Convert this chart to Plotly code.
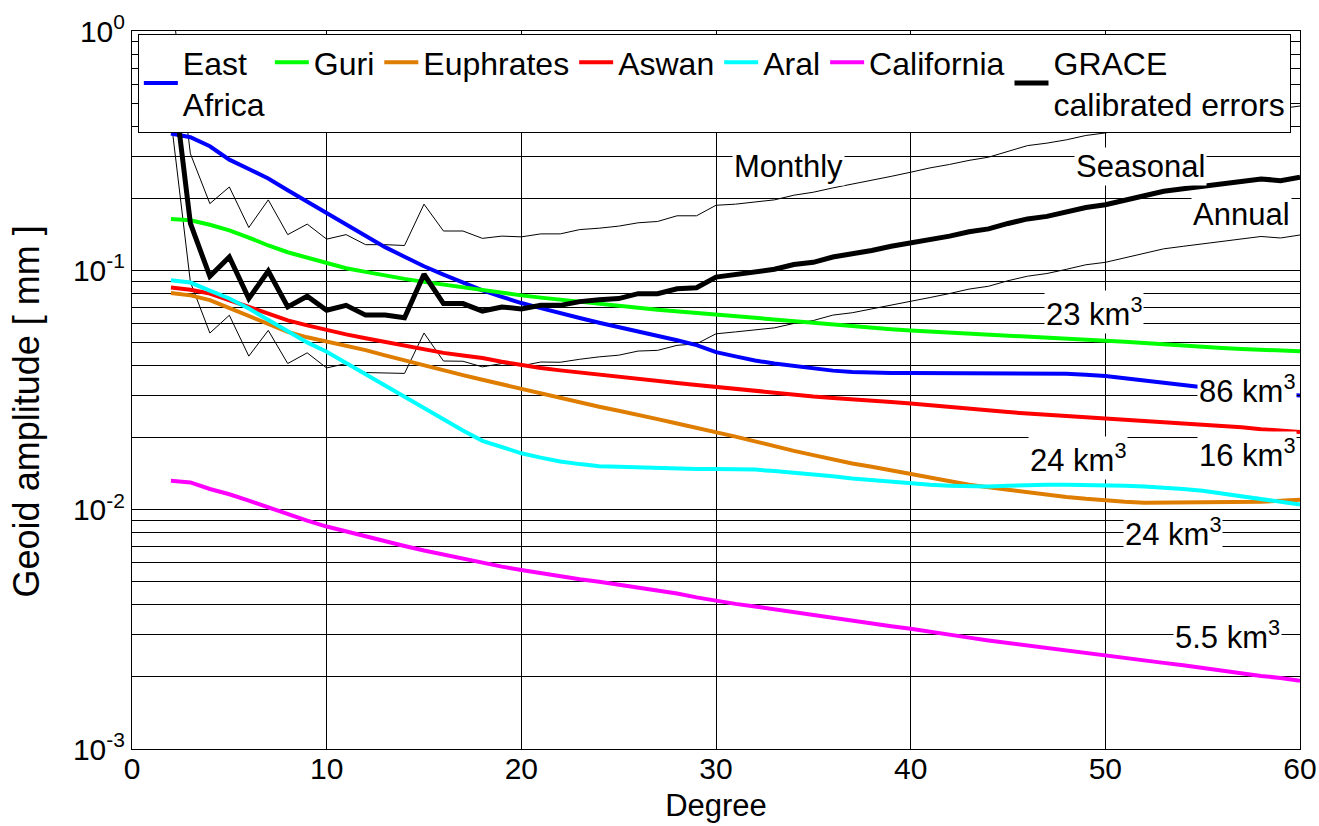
import numpy as np
import plotly.graph_objects as go

# ---------------- data ----------------
degree = list(range(2, 61))

east_africa = [0.373, 0.360, 0.330, 0.290, 0.265, 0.242, 0.216, 0.194, 0.173, 0.156,
               0.140, 0.125, 0.114, 0.104, 0.096, 0.0885, 0.0824, 0.0775, 0.0730, 0.0695,
               0.0660, 0.0632, 0.0604, 0.0580, 0.0556, 0.0532, 0.0510, 0.0487, 0.0455, 0.0437,
               0.0420, 0.0408, 0.0398, 0.0390, 0.0381, 0.0376, 0.0373, 0.0372, 0.0372, 0.0372,
               0.0372, 0.0372, 0.0372, 0.0373, 0.0373, 0.0373, 0.0370, 0.0366, 0.0362, 0.0354,
               0.0346, 0.0338, 0.0330, 0.0323, 0.0318, 0.0313, 0.0308, 0.0304, 0.0300]

guri = [0.164, 0.162, 0.155, 0.147, 0.137, 0.127, 0.119, 0.113, 0.107, 0.102,
        0.0985, 0.0950, 0.0921, 0.0895, 0.0871, 0.0846, 0.0824, 0.0805, 0.0786, 0.0769,
        0.0753, 0.0739, 0.0725, 0.0711, 0.0697, 0.0685, 0.0674, 0.0662, 0.0650, 0.0640,
        0.0630, 0.0620, 0.0610, 0.0600, 0.0590, 0.0582, 0.0575, 0.0567, 0.0560, 0.0555,
        0.0550, 0.0545, 0.0540, 0.0535, 0.0530, 0.0525, 0.0520, 0.0515, 0.0510, 0.0503,
        0.0497, 0.0490, 0.0484, 0.0479, 0.0474, 0.0469, 0.0465, 0.0461, 0.0459]

euphrates = [0.0804, 0.0786, 0.0751, 0.0697, 0.0648, 0.0598, 0.0553, 0.0525, 0.0505, 0.0484,
             0.0464, 0.0441, 0.0420, 0.0400, 0.0382, 0.0365, 0.0349, 0.0334, 0.0320, 0.0305,
             0.0291, 0.0280, 0.0269, 0.0259, 0.0250, 0.0239, 0.0229, 0.0220, 0.0211, 0.0202,
             0.0193, 0.0184, 0.0176, 0.0169, 0.0162, 0.0156, 0.0151, 0.0146, 0.0141, 0.0136,
             0.0131, 0.0127, 0.0124, 0.0121, 0.0118, 0.0115, 0.0113, 0.0111, 0.0109, 0.0108,
             0.0107, 0.0107, 0.0107, 0.0107, 0.0107, 0.0107, 0.0108, 0.0109, 0.0110]

aswan = [0.0847, 0.0830, 0.0800, 0.0750, 0.0707, 0.0659, 0.0618, 0.0589, 0.0562, 0.0540,
         0.0520, 0.0502, 0.0486, 0.0468, 0.0452, 0.0441, 0.0430, 0.0415, 0.0401, 0.0391,
         0.0382, 0.0374, 0.0366, 0.0358, 0.0350, 0.0344, 0.0338, 0.0332, 0.0326, 0.0318,
         0.0312, 0.0306, 0.0301, 0.0297, 0.0293, 0.0290, 0.0286, 0.0282, 0.0278, 0.0273,
         0.0268, 0.0264, 0.0260, 0.0256, 0.0252, 0.0249, 0.0246, 0.0244, 0.0242, 0.0239,
         0.0235, 0.0232, 0.0229, 0.0226, 0.0224, 0.0221, 0.0217, 0.0213, 0.0211]

aral = [0.0909, 0.0889, 0.0823, 0.0763, 0.0692, 0.0621, 0.0563, 0.0500, 0.0457, 0.0412,
        0.0368, 0.0330, 0.0296, 0.0265, 0.0236, 0.0214, 0.0194, 0.0182, 0.0172, 0.0165,
        0.0159, 0.0155, 0.0152, 0.0151, 0.0150, 0.0149, 0.0149, 0.0148, 0.0148, 0.0148,
        0.0147, 0.0145, 0.0143, 0.0141, 0.0138, 0.0135, 0.0133, 0.0130, 0.0128, 0.0127,
        0.0126, 0.0125, 0.0125, 0.0126, 0.0127, 0.0127, 0.0127, 0.0127, 0.0127, 0.0126,
        0.0125, 0.0124, 0.0122, 0.0120, 0.0117, 0.0114, 0.0111, 0.0108, 0.0105]

california = [0.0132, 0.0130, 0.0122, 0.0116, 0.0109, 0.0102, 0.00960, 0.00900, 0.00850, 0.00810,
              0.00776, 0.00742, 0.00705, 0.00675, 0.00648, 0.00622, 0.00598, 0.00578, 0.00560, 0.00542,
              0.00526, 0.00512, 0.00500, 0.00486, 0.00472, 0.00460, 0.00446, 0.00430, 0.00416, 0.00404,
              0.00394, 0.00383, 0.00372, 0.00362, 0.00352, 0.00343, 0.00334, 0.00326, 0.00318, 0.00310,
              0.00301, 0.00292, 0.00284, 0.00277, 0.00270, 0.00264, 0.00257, 0.00251, 0.00246, 0.00240,
              0.00234, 0.00229, 0.00224, 0.00218, 0.00213, 0.00207, 0.00202, 0.00198, 0.00193]

grace_monthly = [1.45, 0.307, 0.190, 0.223, 0.151, 0.197, 0.141, 0.156, 0.135, 0.141,
                 0.128, 0.128, 0.127, 0.189, 0.146, 0.146, 0.136, 0.139, 0.138, 0.142,
                 0.142, 0.148, 0.150, 0.153, 0.158, 0.160, 0.169, 0.169, 0.187, 0.189,
                 0.193, 0.197, 0.206, 0.212, 0.221, 0.229, 0.239, 0.247, 0.257, 0.268,
                 0.277, 0.288, 0.297, 0.315, 0.332, 0.340, 0.351, 0.366, 0.375, 0.390,
                 0.410, 0.425, 0.434, 0.444, 0.455, 0.462, 0.478, 0.474, 0.486]

grace_seasonal = [0.74, 0.157, 0.0944, 0.1137, 0.0762, 0.0993, 0.0703, 0.0779, 0.0681, 0.0714,
                  0.0650, 0.0650, 0.0634, 0.0963, 0.0726, 0.0726, 0.0676, 0.0703, 0.0690, 0.0714,
                  0.0714, 0.0740, 0.0754, 0.0762, 0.0799, 0.0799, 0.0837, 0.0846, 0.0937, 0.0963,
                  0.0984, 0.1010, 0.1057, 0.1080, 0.1137, 0.1166, 0.1210, 0.1260, 0.1300, 0.1340,
                  0.1390, 0.1450, 0.1490, 0.1570, 0.1640, 0.1680, 0.1750, 0.1830, 0.1880, 0.1970,
                  0.2060, 0.2140, 0.2190, 0.2240, 0.2300, 0.2340, 0.2410, 0.2370, 0.2450]

grace_annual = [0.43, 0.0893, 0.0547, 0.0649, 0.0438, 0.0561, 0.0408, 0.0452, 0.0391, 0.0408,
                0.0374, 0.0372, 0.0371, 0.0547, 0.0418, 0.0417, 0.0395, 0.0408, 0.0399, 0.0414,
                0.0413, 0.0425, 0.0435, 0.0442, 0.0460, 0.0463, 0.0486, 0.0493, 0.0543, 0.0553,
                0.0563, 0.0575, 0.0600, 0.0617, 0.0650, 0.0665, 0.0690, 0.0715, 0.0738, 0.0770,
                0.0800, 0.0835, 0.0858, 0.0905, 0.0945, 0.0970, 0.1010, 0.1055, 0.1080, 0.1130,
                0.1180, 0.1230, 0.1260, 0.1290, 0.1320, 0.1345, 0.1385, 0.1365, 0.1405]

series_names = ["East<br>Africa", "Guri", "Euphrates", "Aswan", "Aral", "California"]
series_values = [east_africa, guri, euphrates, aswan, aral, california]
series_colors = ["#0000ff", "#00ff00", "#de7d00", "#ff0000", "#00ffff", "#ff00ff"]
grace_name = "GRACE<br>calibrated errors"

x_tick_vals = [0, 10, 20, 30, 40, 50, 60]
y_decades = [-3, -2, -1, 0]

# line labels: (text, degree, value)
curve_labels = [
    ("Monthly", 33.7, 0.272),
    ("Seasonal", 51.8, 0.272),
    ("Annual", 57.0, 0.171),
    ("23 km<sup>3</sup>", 49.4, 0.0672),
    ("86 km<sup>3</sup>", 57.3, 0.0318),
    ("24 km<sup>3</sup>", 48.6, 0.0164),
    ("16 km<sup>3</sup>", 57.3, 0.0172),
    ("24 km<sup>3</sup>", 53.5, 0.00808),
    ("5.5 km<sup>3</sup>", 56.3, 0.00300),
]

# ---------------- figure ----------------
FONT = "Liberation Sans, Arial, Helvetica, sans-serif"
fig = go.Figure()

for arr in (grace_monthly, grace_annual):
    fig.add_trace(go.Scatter(x=degree, y=arr, mode="lines",
                             line=dict(color="black", width=1),
                             showlegend=False, hoverinfo="skip"))

for name, vals, col in zip(series_names, series_values, series_colors):
    fig.add_trace(go.Scatter(x=degree, y=vals, mode="lines", name=name,
                             line=dict(color=col, width=4)))

fig.add_trace(go.Scatter(x=degree, y=grace_seasonal, mode="lines", name=grace_name,
                         line=dict(color="black", width=5)))

# y ticks: every 1..9 x decade (grid lines), labels only on decades
y_tick_vals, y_tick_text = [], []
for d in y_decades:
    for m in range(1, 10):
        if d == 0 and m > 1:
            break
        y_tick_vals.append(m * 10.0 ** d)
        y_tick_text.append("10<sup>%d</sup>" % d if m == 1 else "")

annotations = []
for txt, xd, yv in curve_labels:
    annotations.append(dict(x=xd, y=np.log10(yv), xref="x", yref="y", text=txt,
                            showarrow=False, xanchor="center", yanchor="middle",
                            bgcolor="white", borderpad=1,
                            font=dict(family=FONT, size=31, color="black")))
annotations.append(dict(x=-0.09, y=0.47, xref="paper", yref="paper",
                        text="Geoid amplitude [ mm ]", textangle=-90,
                        showarrow=False, xanchor="center", yanchor="middle",
                        font=dict(family=FONT, size=36, color="black")))

fig.update_layout(
    width=1319, height=826, autosize=False,
    margin=dict(l=132, r=19, t=31, b=77, autoexpand=False),
    paper_bgcolor="white", plot_bgcolor="white",
    font=dict(family=FONT, size=30, color="black"),
    showlegend=True,
    legend=dict(orientation="h", x=0.005, y=0.996, xanchor="left", yanchor="top",
                bgcolor="white", bordercolor="black", borderwidth=1,
                font=dict(family=FONT, size=32, color="black"),
                traceorder="normal", itemwidth=34),
    xaxis=dict(range=[0, 60], tickmode="array", tickvals=x_tick_vals,
               showgrid=True, gridcolor="black", gridwidth=1,
               ticks="inside", ticklen=7, tickcolor="black",
               showline=True, linecolor="black", linewidth=1, mirror="ticks",
               zeroline=False, tickfont=dict(size=30), automargin=False,
               ticklabelstandoff=-7,
               title=dict(text="Degree", font=dict(size=31), standoff=10)),
    yaxis=dict(type="log", range=[-3, 0], tickmode="array",
               tickvals=y_tick_vals, ticktext=y_tick_text,
               showgrid=True, gridcolor="black", gridwidth=1,
               ticks="inside", ticklen=7, tickcolor="black",
               showline=True, linecolor="black", linewidth=1, mirror="ticks",
               zeroline=False, tickfont=dict(size=30), automargin=False),
    annotations=annotations,
)

fig.write_html("out.html")
